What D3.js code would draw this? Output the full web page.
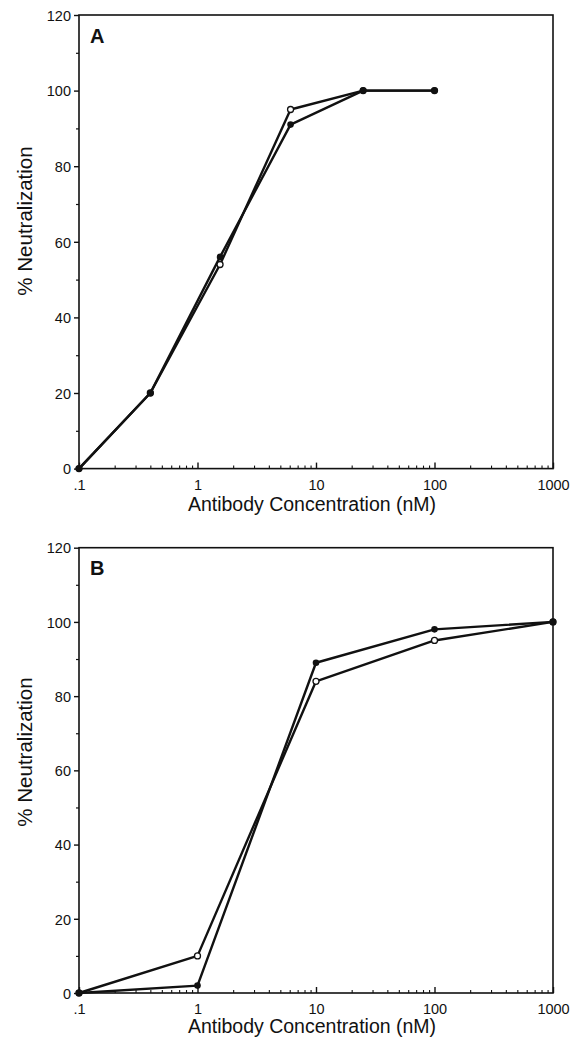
<!DOCTYPE html>
<html><head><meta charset="utf-8">
<script src="https://cdn.jsdelivr.net/npm/d3@7"></script>
<style>body{margin:0;background:#fff}svg{display:block}text{font-family:"Liberation Sans",Arial,sans-serif;fill:#111}</style>
</head><body>
<svg id="c" width="576" height="1038"></svg>
<script>
const xTickValues = [0.1, 1, 10, 100, 1000];
const xTickLabels = [".1", "1", "10", "100", "1000"];
const yTickValues = [0, 20, 40, 60, 80, 100, 120];

const concA = [0.1, 0.4, 1.55, 6.1, 25, 100];
const filledA = [0, 20, 56, 91, 100, 100];
const openA = [0, 20, 54, 95, 100, 100];

const concB = [0.1, 1, 10, 100, 1000];
const filledB = [0, 2, 89, 98, 100];
const openB = [0, 10, 84, 95, 100];

const panels = [
  {label: "A", top: 15, bottom: 468.6, conc: concA, filled: filledA, open: openA, tickY: 490, titleY: 511, yTitleC: 221},
  {label: "B", top: 547.7, bottom: 993, conc: concB, filled: filledB, open: openB, tickY: 1014, titleY: 1033, yTitleC: 752}
];
const left = 79, right = 553;
const svg = d3.select("#c");

panels.forEach(p => {
  const x = d3.scaleLog().domain([0.1, 1000]).range([left, right]);
  const y = d3.scaleLinear().domain([0, 120]).range([p.bottom, p.top]);
  const g = svg.append("g");

  g.append("rect").attr("x", left).attr("y", p.top).attr("width", right - left).attr("height", p.bottom - p.top)
    .attr("fill", "none").attr("stroke", "#111").attr("stroke-width", 1.6);

  const yAx = d3.axisLeft(y).tickValues(yTickValues).tickSize(5).tickPadding(3).tickFormat(d3.format("d"));
  const ya = g.append("g").attr("transform", `translate(${left},0)`).call(yAx);
  ya.select(".domain").remove();
  ya.selectAll("line").attr("stroke", "#111").attr("stroke-width", 1.4);
  ya.selectAll("text").style("font-size", "14.5px").attr("fill", "#111").attr("dy", "0.36em");
  const yMinor = d3.range(10, 120, 20);
  g.append("g").attr("transform", `translate(${left},0)`).call(d3.axisLeft(y).tickValues(yMinor).tickSize(3).tickFormat(""))
    .call(s => { s.select(".domain").remove(); s.selectAll("line").attr("stroke", "#111").attr("stroke-width", 1.2); });

  const xAx = d3.axisBottom(x).tickValues(xTickValues).tickSize(-6).tickPadding(0).tickFormat((d, i) => xTickLabels[i]);
  const xa = g.append("g").attr("transform", `translate(0,${p.bottom})`).call(xAx);
  xa.select(".domain").remove();
  xa.selectAll("line").attr("stroke", "#111").attr("stroke-width", 1.4);
  xa.selectAll("text").style("font-size", "14.5px").attr("fill", "#111").attr("dy", null).attr("y", p.tickY - p.bottom);
  const xMinor = [];
  [0.1, 1, 10, 100].forEach(b => { for (let k = 2; k <= 9; k++) xMinor.push(b * k); });
  g.append("g").attr("transform", `translate(0,${p.bottom})`).call(d3.axisBottom(x).tickValues(xMinor).tickSize(-3).tickFormat(""))
    .call(s => { s.select(".domain").remove(); s.selectAll("line").attr("stroke", "#111").attr("stroke-width", 1.1); });

  g.append("text").attr("x", 312).attr("y", p.titleY).attr("text-anchor", "middle")
    .style("font-size", "19.5px").text("Antibody Concentration (nM)");
  g.append("text").attr("transform", `translate(32,${p.yTitleC}) rotate(-90)`).attr("text-anchor", "middle")
    .style("font-size", "20.5px").text("% Neutralization");
  g.append("text").attr("x", 90).attr("y", p.top + 27.5).style("font-size", "20px").style("font-weight", "bold").text(p.label);

  const line = d3.line().x(d => x(d[0])).y(d => y(d[1]));
  const dOpen = p.conc.map((c, i) => [c, p.open[i]]);
  const dFilled = p.conc.map((c, i) => [c, p.filled[i]]);
  g.append("path").datum(dOpen).attr("d", line).attr("fill", "none").attr("stroke", "#111").attr("stroke-width", 2.4).attr("stroke-linejoin", "round");
  g.append("path").datum(dFilled).attr("d", line).attr("fill", "none").attr("stroke", "#111").attr("stroke-width", 2.4).attr("stroke-linejoin", "round");
  g.selectAll(".o").data(dOpen).enter().append("circle").attr("cx", d => x(d[0])).attr("cy", d => y(d[1])).attr("r", 3)
    .attr("fill", "#fff").attr("stroke", "#111").attr("stroke-width", 1.3);
  g.selectAll(".f").data(dFilled).enter().append("circle").attr("cx", d => x(d[0])).attr("cy", d => y(d[1])).attr("r", 3.3)
    .attr("fill", "#111");
});
</script>
</body></html>
